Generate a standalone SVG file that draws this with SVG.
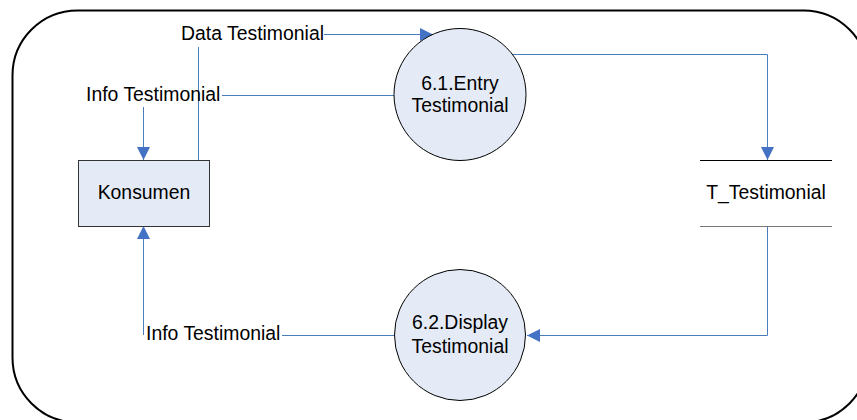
<svg xmlns="http://www.w3.org/2000/svg" width="857" height="420" viewBox="0 0 857 420">
<style>
text{font-family:"Liberation Sans",Arial,sans-serif;font-size:19.4px;fill:#000}
.c{text-anchor:middle}
.flow{fill:none;stroke:#4a7ebb;stroke-width:1}
.proc{fill:#e4ebf6;stroke:#000;stroke-width:1}
</style>
<defs>
<marker id="ah" viewBox="0 0 13 13" refX="13" refY="6.5" markerWidth="13" markerHeight="13" markerUnits="userSpaceOnUse" orient="auto">
<path d="M0,0 L13,6.5 L0,13 Z" fill="#4472c4"/>
</marker>
</defs>
<rect x="12.5" y="10.5" width="856" height="412" rx="65" ry="65" fill="#fff" stroke="#000" stroke-width="2"/>
<g id="connectors">
<path class="flow" d="M198.5,160 V47"/>
<path class="flow" d="M324,34.5 H433" marker-end="url(#ah)"/>
<path class="flow" d="M394,95.5 H222"/>
<path class="flow" d="M143.5,107 V160" marker-end="url(#ah)"/>
<path class="flow" d="M512,54.5 H767.5 V160" marker-end="url(#ah)"/>
<path class="flow" d="M767.5,226 V335.5 H527" marker-end="url(#ah)"/>
<path class="flow" d="M394,335.5 H282"/>
<path class="flow" d="M143.5,335 V226" marker-end="url(#ah)"/>
</g>
<g id="label-data">
<text x="181" y="40">Data Testimonial</text>
</g>
<g id="label-info1">
<text x="86" y="101">Info Testimonial</text>
</g>
<g id="label-info2">
<text x="146" y="340">Info Testimonial</text>
</g>
<g id="konsumen">
<rect x="78.5" y="160.5" width="131" height="66" fill="#e4ebf6" stroke="#333" stroke-width="1"/>
<text class="c" x="144" y="199">Konsumen</text>
</g>
<g id="p61">
<circle class="proc" cx="460" cy="94.5" r="66"/>
<text class="c" x="460" y="90">6.1.Entry</text>
<text class="c" x="460" y="112">Testimonial</text>
</g>
<g id="p62">
<circle class="proc" cx="460" cy="335" r="65.5"/>
<text class="c" x="460" y="329">6.2.Display</text>
<text class="c" x="460" y="353">Testimonial</text>
</g>
<g id="ttestimonial">
<line x1="700" y1="160.5" x2="832" y2="160.5" stroke="#000" stroke-width="1"/>
<line x1="700" y1="226.5" x2="832" y2="226.5" stroke="#777" stroke-width="1"/>
<text class="c" x="766" y="199">T_Testimonial</text>
</g>
</svg>
